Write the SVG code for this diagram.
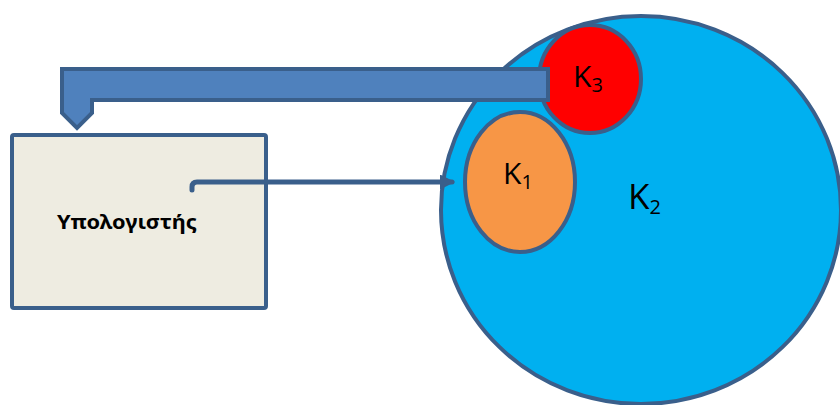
<svg xmlns="http://www.w3.org/2000/svg" width="840" height="405" viewBox="0 0 840 405">
  <style>
    .edge { stroke: #3A5F8B; stroke-width: 4; }
    .lbl { font-family: "Open Sans", "Liberation Sans", sans-serif; fill: #000000; }
    .sub { font-size: 20px; }
  </style>
  <defs>
    <marker id="arrow" viewBox="0 0 10 10" refX="8" refY="5" markerWidth="3" markerHeight="3" orient="auto" markerUnits="strokeWidth">
      <path d="M0,0 L10,5 L0,10 Z" fill="#3A5F8B"/>
    </marker>
  </defs>

  <rect width="840" height="405" fill="#FFFFFF"/>

  <!-- outer set K2 -->
  <g id="k2">
    <ellipse cx="641" cy="210" rx="200" ry="194" fill="#00B0F0" class="edge"/>
    <text class="lbl" x="628" y="209" font-size="35">K<tspan class="sub" dy="5">2</tspan></text>
  </g>

  <!-- inner set K1 -->
  <g id="k1">
    <ellipse cx="520" cy="182" rx="55" ry="70" fill="#F79646" class="edge"/>
    <text class="lbl" x="503" y="184" font-size="30">K<tspan class="sub" dy="5">1</tspan></text>
  </g>

  <!-- inner set K3 -->
  <g id="k3">
    <ellipse cx="590" cy="79" rx="51" ry="54" fill="#FF0000" class="edge"/>
    <text class="lbl" x="573" y="87" font-size="30">K<tspan class="sub" dy="5">3</tspan></text>
  </g>

  <!-- computer box -->
  <g id="computer">
    <rect x="12" y="135" width="254" height="173" rx="2" fill="#EEECE1" class="edge"/>
    <text x="57" y="229" font-family="'Noto Sans', 'Open Sans', sans-serif" font-size="19" font-weight="bold" fill="#000000" textLength="140" lengthAdjust="spacingAndGlyphs">Υπολογιστής</text>
  </g>

  <!-- connectors -->
  <g id="connectors">
    <!-- bent block arrow from K3 back to the computer -->
    <path d="M548,69 L62,69 L62,113 L77,128 L92,113 L92,100 L548,100 Z" fill="#4F81BD" class="edge" stroke-linejoin="miter"/>
    <!-- elbow connector from the computer into K1 -->
    <path d="M192,190 L192,187 Q192,182 197,182 L452,182" fill="none" stroke="#3A5F8B" stroke-width="5" stroke-linecap="round" marker-end="url(#arrow)"/>
  </g>
</svg>
